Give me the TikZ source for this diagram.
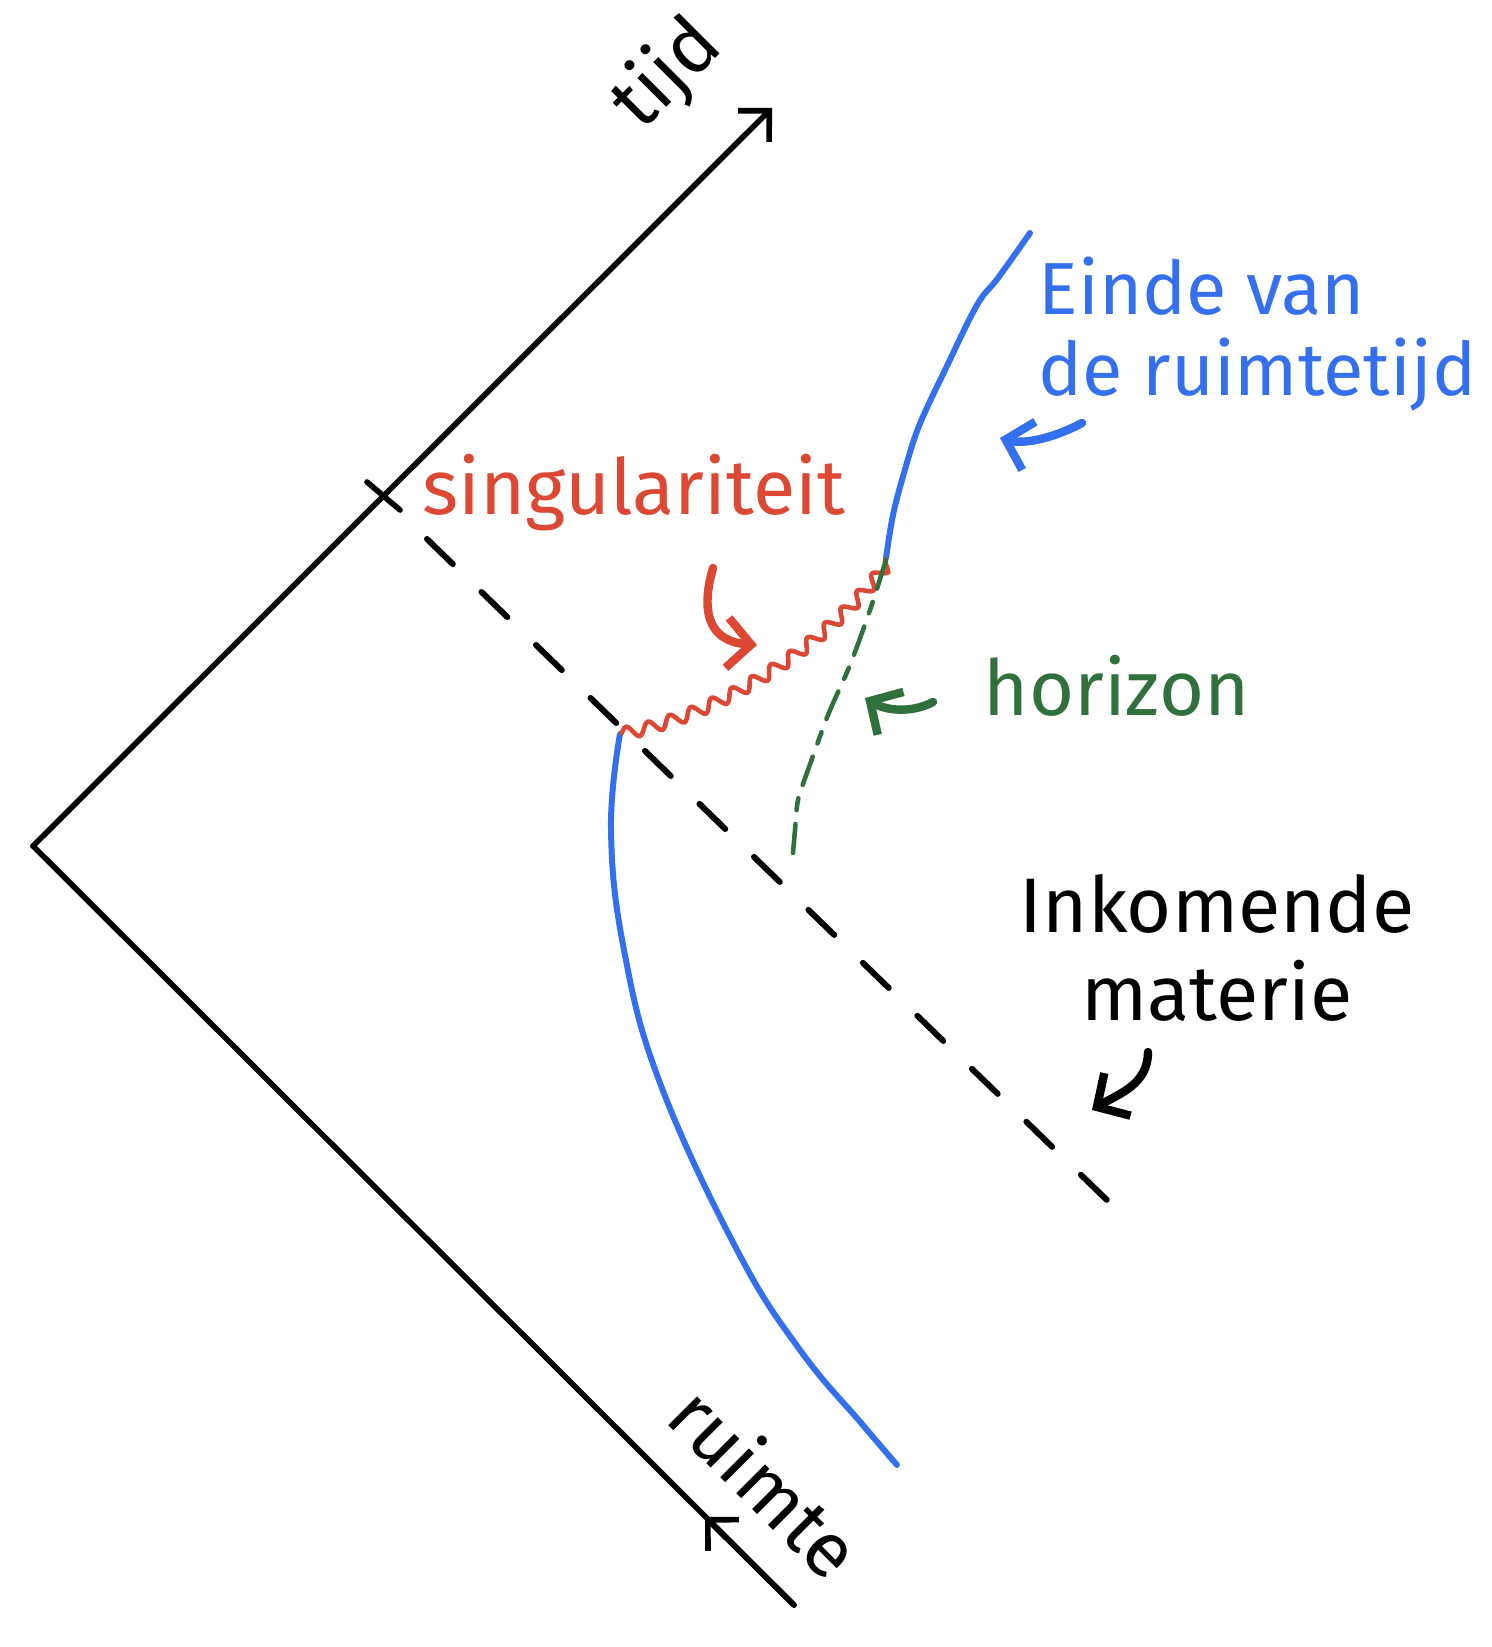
\documentclass[tikz,border=0pt]{standalone}
\usepackage{fontspec}
\setmainfont{Fira Sans}
\usepackage{xcolor}
\definecolor{penblue}{RGB}{52,112,238}
\definecolor{penred}{RGB}{220,72,52}
\definecolor{pengreen}{RGB}{48,112,60}
\usetikzlibrary{arrows.meta,decorations.pathmorphing,positioning,calc}

\begin{document}
\begin{tikzpicture}[
    x=0.1mm, y=-0.1mm,
    axisline/.style={line width=1.6pt, line cap=round},
    barb/.style={-{Straight Barb[length=2.2mm, width=4.4mm]}},
    pointer/.style={line width=2.4pt, line cap=round, -{Straight Barb[length=2.4mm, width=5mm]}},
    world/.style={line width=1.7pt, line cap=round, penblue},
    matter/.style={line width=1.7pt, line cap=round, dash pattern=on 3.6mm off 4mm},
    hand/.style={font=\fontsize{22}{24}\selectfont, inner sep=0pt}
]
\useasboundingbox (0,0) rectangle (1491,1647);

% Axes
\coordinate (origin) at (33,846);
\coordinate (tijdend) at (772,108);
\coordinate (ruimteend) at (794,1605);
\coordinate (ruimtepijl) at (705,1517);
\coordinate (tick) at (383,498);
\draw[axisline, barb] (origin) -- (tijdend);
\draw[axisline] (origin) -- (ruimteend);
\draw[axisline, barb] (ruimteend) -- (ruimtepijl);
\draw[axisline] ($(tick)+(-16,-16)$) -- ($(tick)+(17,12)$);
\node[hand, rotate=45] (tijd) at (668,75) {tijd};
\node[hand, rotate=-45] (ruimte) at (766,1481) {ruimte};

% Incoming matter
\coordinate (mstart) at (427,539);
\coordinate (mend) at (1112,1205);
\draw[matter] (mstart) -- (mend);

% Star surface and end of spacetime
\coordinate (join) at (620,734);
\coordinate (top) at (886,558);
\draw[world] plot[smooth, tension=0.7] coordinates {(620,734) (611,830) (624,950) (660,1083) (737,1250) (800,1350) (862,1424) (897,1465)};
\draw[world] plot[smooth, tension=0.6] coordinates {(886,558) (893,515) (904,473) (919,426) (946,368) (977,305) (998,278) (1030,233)};

% Singularity and horizon
\draw[penred, line width=1.3pt, decorate, decoration={snake, amplitude=0.6mm, segment length=2.3mm}]
    (join) .. controls (720,715) and (830,640) .. (top);
\draw[pengreen, line width=1.3pt, line cap=round, dash pattern=on 3mm off 1.4mm on 1.2mm off 1.4mm]
    plot[smooth] coordinates {(886,560) (870,610) (850,665) (828,715) (808,770) (798,800) (795,830) (793,853)};

% Labels
\node[hand, text=penred, anchor=base west] (sing) at (422,514) {singulariteit};
\node[hand, text=penblue, font=\fontsize{21}{23}\selectfont, align=left, anchor=north west] (einde) at (1038,256) {Einde van\\de ruimtetijd};
\node[hand, text=pengreen, anchor=base west] (horizon) at (983,715) {horizon};
\node[hand, align=center, anchor=north] (inkomend) at (1217,874) {Inkomende\\[1pt]materie};

% Pointers
\coordinate (singtip) at (757,645);
\coordinate (horizontip) at (865,698);
\coordinate (eindetip) at (1000,438);
\coordinate (materietip) at (1092,1110);
\draw[pointer, penred] (713,568) .. controls (698,620) and (715,642) .. (singtip);
\draw[pointer, pengreen] (933,702) .. controls (910,714) and (885,710) .. (horizontip);
\draw[pointer, penblue] (1082,423) .. controls (1050,440) and (1022,444) .. (eindetip);
\draw[pointer] (1148,1052) .. controls (1148,1085) and (1118,1094) .. (materietip);

\end{tikzpicture}
\end{document}
